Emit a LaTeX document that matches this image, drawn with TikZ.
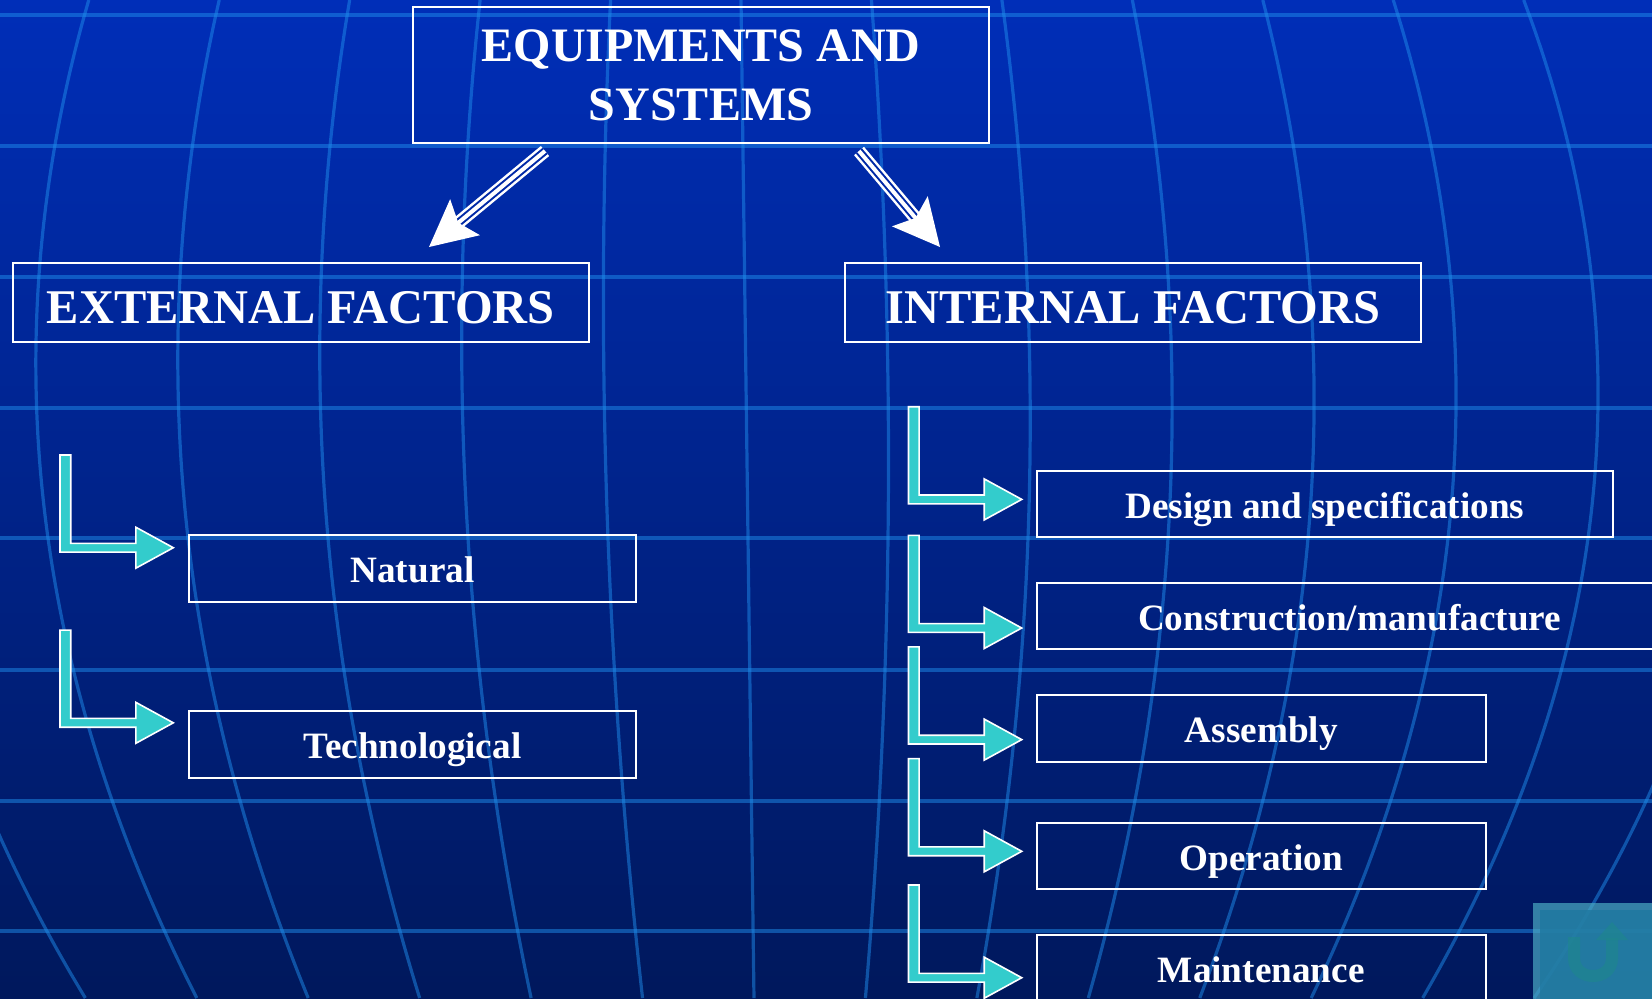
\documentclass[tikz,border=0pt]{standalone}
\usepackage{fontspec}
\setmainfont{Liberation Serif}
\usetikzlibrary{calc}
\definecolor{bgtop}{RGB}{0,46,184}
\definecolor{bgbot}{RGB}{0,24,92}
\definecolor{gridc}{RGB}{30,140,235}
\definecolor{cyanarr}{RGB}{51,204,204}
\definecolor{gapblue}{RGB}{0,41,166}
\definecolor{btnedge}{RGB}{75,170,195}
\definecolor{btnfill}{RGB}{30,120,160}
\definecolor{btnarrow}{RGB}{30,135,140}
\newcommand\drawTripleArrow[2]{%
  \coordinate (tmpE) at ($(#2)!17pt!(#1)$);
  \draw[white, line width=6.5pt] (#1) -- (tmpE);
  \draw[gapblue, line width=4pt] (#1) -- (tmpE);
  \draw[white, line width=2pt] (#1) -- (tmpE);
  \coordinate (tmpB) at ($(#2)!23.4pt!(#1)$);
  \coordinate (tmpN) at ($(#2)!19pt!(#1)$);
  \fill[white] (#2) -- ($(tmpB)!11.7pt!90:(#2)$) -- (tmpN) -- ($(tmpB)!11.7pt!-90:(#2)$) -- cycle;
}
\tikzset{
  lshape/.pic={\filldraw[fill=cyanarr, draw=white, line width=0.8pt, line join=miter]
    (-113.3,-92.7) -- (-102.6,-92.7) -- (-102.6,-4.4) -- (-37.5,-4.4) -- (-37.5,-20.5)
    -- (0,0) -- (-37.5,20.5) -- (-37.5,4.4) -- (-113.3,4.4) -- cycle;}
}
\begin{document}
\begin{tikzpicture}[x=0.5pt,y=-0.5pt,
  gridline/.style={draw=gridc, opacity=0.5},
  box/.style={draw=white, line width=1pt, inner sep=0pt, outer sep=0pt, text=white},
  bigbox/.style={box, font=\fontsize{24.2}{28}\selectfont\bfseries, minimum width=288pt,
    minimum height=39.5pt, text height=20.5pt, text depth=0pt},
  smallbox/.style={box, font=\fontsize{18.6}{22}\selectfont\bfseries, minimum height=33.2pt,
    text height=14.4pt, text depth=0pt}
]
\useasboundingbox (0,0) rectangle (1652,998);
\clip (0,0) rectangle (1652,998);
% background
\shade[top color=bgtop, bottom color=bgbot] (0,0) rectangle (1652,998);
% grid
\foreach \yy in {15,146,277,408,538,670,801,931}
  \draw[gridline, line width=2pt] (0,\yy) -- (1652,\yy);
\foreach \k in {-6,...,7}
  \draw[gridline, line width=1.6pt] plot[domain=0:998, samples=40, variable=\t, smooth]
    ({741+0.013*\t+\k*(142-0.8*((\t-380)/100)^2)}, \t);
% return button
\fill[btnedge, opacity=0.7] (1533,903) rectangle (1660,1005);
\fill[btnfill, opacity=0.8] (1540,910) rectangle (1660,1005);
\draw[btnarrow, opacity=0.6, line width=6pt] (1574,937) -- (1574,958)
  .. controls (1574,982) and (1612,982) .. (1612,958) -- (1612,938);
\fill[btnarrow, opacity=0.6] (1596,940) -- (1612,922) -- (1628,940) -- cycle;
% nodes
\node[box, font=\fontsize{24}{29.5}\selectfont\bfseries, minimum width=288pt,
  minimum height=68pt, align=center] (title) at (701,75) {EQUIPMENTS AND\\SYSTEMS};
\node[bigbox] (ext) at (300.8,302.5) {EXTERNAL FACTORS};
\node[bigbox] (int) at (1133,302.5) {INTERNAL FACTORS};
\node[smallbox, minimum width=223.9pt] (nat) at (412.5,568.3) {Natural};
\node[smallbox, minimum width=223.9pt] (tech) at (412.5,744.3) {Technological};
\node[smallbox, minimum width=288.15pt] (des) at (1324.9,504.2) {Design and specifications};
\node[smallbox, minimum width=312.9pt] (con) at (1349.6,615.8) {Construction/manufacture};
\node[smallbox, minimum width=224.45pt] (asm) at (1261.2,728.5) {Assembly};
\node[smallbox, minimum width=224.45pt] (ope) at (1261.2,856) {Operation};
\node[smallbox, minimum width=224.45pt] (mai) at (1261.2,967.7) {Maintenance};
% arrows from title
\coordinate (ls) at ($(title.south)+(-156,8)$);
\coordinate (lt) at ($(ext.north)+(128.2,-16)$);
\coordinate (rs) at ($(title.south)+(158,8)$);
\coordinate (rt) at ($(int.north)+(-193,-16)$);
\drawTripleArrow{ls}{lt}
\drawTripleArrow{rs}{rt}
% L arrows
\pic at ($(nat.west)+(-15.3,-20.6)$) {lshape};
\pic at ($(tech.west)+(-15.3,-21.5)$) {lshape};
\pic at ($(des.west)+(-15,-4.8)$) {lshape};
\pic at ($(con.west)+(-15,12.2)$) {lshape};
\pic at ($(asm.west)+(-15,11.1)$) {lshape};
\pic at ($(ope.west)+(-15,-4.7)$) {lshape};
\pic at ($(mai.west)+(-15,10)$) {lshape};
\end{tikzpicture}
\end{document}
